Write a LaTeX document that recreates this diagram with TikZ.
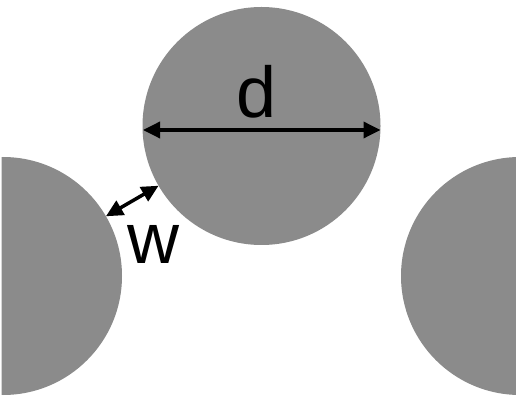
\documentclass[tikz,border=0pt]{standalone}
\usepackage{fontspec}
\setmainfont{Liberation Sans}
\usetikzlibrary{arrows.meta,calc}
\definecolor{disk}{RGB}{139,139,139}
\tikzset{
  diskstyle/.style={fill=disk,draw=none},
  dimarrow/.style={line width=3.5pt,{Triangle[length=17pt,width=16pt]}-{Triangle[length=17pt,width=16pt]}},
  lbl/.style={font=\fontsize{72}{80}\selectfont,inner sep=0pt}
}
\begin{document}
\begin{tikzpicture}[x=1pt,y=1pt]
\useasboundingbox (0,0) rectangle (516,396);
\begin{scope}
\clip (1.5,0) rectangle (516,396);
\coordinate (ct) at (261.5,270);
\coordinate (cl) at (3,120);
\coordinate (cr) at (520,120);
\fill[diskstyle] (ct) circle (119);
\fill[diskstyle] (cl) circle (119);
\fill[diskstyle] (cr) circle (119);
\end{scope}
\coordinate (dl) at (143,266);
\coordinate (dr) at (380.5,266);
\draw[dimarrow] (dl) -- (dr);
\node[lbl] (d) at (257,304) {d};
\coordinate (wa) at ($(ct)!119pt!(cl)$);
\coordinate (wb) at ($(cl)!119pt!(ct)$);
\draw[dimarrow] (wa) -- (wb);
\node[lbl] (w) at (153,152) {w};
\end{tikzpicture}
\end{document}
